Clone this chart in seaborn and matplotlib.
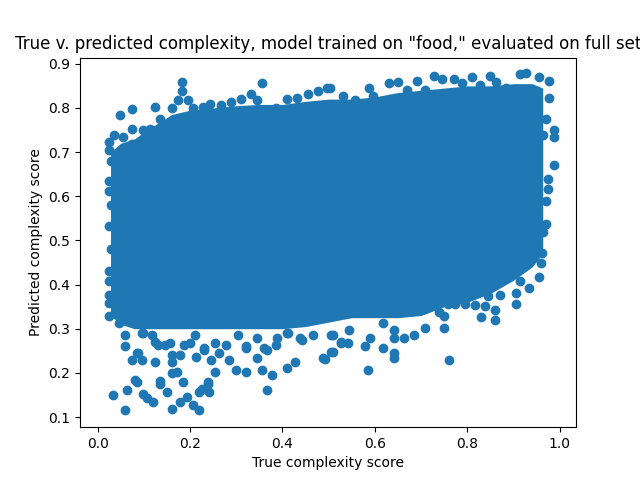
import matplotlib
matplotlib.use("Agg")
import matplotlib.pyplot as plt
import seaborn as sns
import pandas as pd

# solid core of the cloud (true score -> lowest / highest covered predicted score)
core_x = [0.028, 0.05, 0.08, 0.10, 0.13, 0.16, 0.20, 0.25, 0.30, 0.35, 0.40, 0.45,
          0.50, 0.55, 0.60, 0.65, 0.70, 0.75, 0.80, 0.85, 0.90, 0.94, 0.963]
core_low = [0.33, 0.31, 0.30, 0.30, 0.30, 0.30, 0.30, 0.30, 0.30, 0.30, 0.30, 0.305,
            0.315, 0.325, 0.325, 0.325, 0.33, 0.35, 0.36, 0.38, 0.41, 0.44, 0.47]
core_high = [0.70, 0.72, 0.73, 0.745, 0.765, 0.785, 0.795, 0.80, 0.805, 0.808, 0.808, 0.815,
             0.82, 0.82, 0.825, 0.835, 0.84, 0.845, 0.85, 0.85, 0.855, 0.855, 0.845]

# points along the upper rim
top_x = [0.024, 0.035, 0.024, 0.048, 0.074, 0.056, 0.074, 0.074, 0.099, 0.113, 0.124, 0.135,
         0.16, 0.174, 0.183, 0.183, 0.196, 0.206, 0.228, 0.243, 0.267, 0.288, 0.31, 0.333,
         0.356, 0.345, 0.385, 0.41, 0.431, 0.456, 0.477, 0.497, 0.503, 0.531, 0.556, 0.588,
         0.595, 0.631, 0.649, 0.67, 0.69, 0.709, 0.727, 0.745, 0.77, 0.788, 0.809, 0.827,
         0.849, 0.863, 0.884, 0.913, 0.927, 0.956, 0.977]
top_y = [0.723, 0.738, 0.704, 0.785, 0.797, 0.734, 0.753, 0.719, 0.749, 0.753, 0.803, 0.776,
         0.799, 0.817, 0.858, 0.838, 0.817, 0.799, 0.803, 0.808, 0.807, 0.814, 0.82, 0.831,
         0.856, 0.817, 0.799, 0.82, 0.822, 0.831, 0.838, 0.845, 0.845, 0.826, 0.818, 0.845,
         0.826, 0.856, 0.858, 0.841, 0.861, 0.841, 0.873, 0.866, 0.866, 0.856, 0.869, 0.852,
         0.873, 0.858, 0.845, 0.877, 0.879, 0.869, 0.861]

# points along the left and right sides
side_x = [0.024, 0.024, 0.024, 0.024, 0.024, 0.024, 0.024, 0.024, 0.03, 0.03, 0.03,
          0.976, 0.97, 0.988, 0.988, 0.963, 0.987, 0.974, 0.974, 0.97, 0.97, 0.963,
          0.961, 0.959, 0.956]
side_y = [0.635, 0.613, 0.533, 0.43, 0.408, 0.377, 0.358, 0.328, 0.68, 0.58, 0.48,
          0.822, 0.776, 0.75, 0.734, 0.738, 0.67, 0.64, 0.617, 0.59, 0.538, 0.52,
          0.472, 0.449, 0.417]

# points along the lower rim and below it
bottom_x = [0.046, 0.06, 0.06, 0.074, 0.096, 0.088, 0.124, 0.099, 0.124, 0.146, 0.16,
            0.16, 0.178, 0.199, 0.213, 0.231, 0.246, 0.253, 0.263, 0.285, 0.299, 0.321, 0.321,
            0.345, 0.36, 0.356, 0.377, 0.385, 0.41, 0.41, 0.428, 0.442, 0.488, 0.506, 0.366,
            0.51, 0.527, 0.545, 0.542, 0.578, 0.589, 0.617, 0.617, 0.642, 0.642, 0.663, 0.685,
            0.709, 0.749, 0.749, 0.738, 0.759, 0.774, 0.795, 0.816, 0.838, 0.829, 0.859, 0.859,
            0.845, 0.87, 0.906, 0.906, 0.913, 0.934, 0.76, 0.585, 0.642, 0.642, 0.492, 0.505,
            0.085, 0.096, 0.117, 0.131, 0.156, 0.16, 0.188, 0.21, 0.231, 0.253, 0.278, 0.303,
            0.321, 0.345, 0.367, 0.388, 0.413, 0.438, 0.467, 0.51, 0.527]
bottom_y = [0.313, 0.286, 0.26, 0.229, 0.229, 0.244, 0.225, 0.29, 0.271, 0.264, 0.225,
            0.199, 0.24, 0.267, 0.236, 0.252, 0.229, 0.201, 0.244, 0.229, 0.206, 0.203, 0.26,
            0.233, 0.256, 0.206, 0.195, 0.263, 0.21, 0.29, 0.225, 0.275, 0.233, 0.286, 0.162,
            0.286, 0.271, 0.298, 0.267, 0.26, 0.279, 0.256, 0.313, 0.298, 0.279, 0.279, 0.286,
            0.301, 0.301, 0.328, 0.339, 0.355, 0.355, 0.355, 0.353, 0.351, 0.326, 0.343, 0.32,
            0.373, 0.377, 0.381, 0.357, 0.408, 0.392, 0.23, 0.207, 0.244, 0.234, 0.232, 0.248,
            0.244, 0.29, 0.286, 0.264, 0.267, 0.24, 0.264, 0.286, 0.256, 0.267, 0.264, 0.286,
            0.256, 0.279, 0.252, 0.279, 0.29, 0.279, 0.286, 0.248, 0.267]

# low cluster near the bottom left
cluster_x = [0.034, 0.06, 0.064, 0.086, 0.098, 0.12, 0.135, 0.15, 0.16, 0.171, 0.184, 0.193,
             0.22, 0.22, 0.238, 0.242, 0.178, 0.206, 0.107, 0.225, 0.081, 0.135, 0.238]
cluster_y = [0.15, 0.116, 0.162, 0.18, 0.153, 0.134, 0.175, 0.157, 0.118, 0.203, 0.18, 0.146,
             0.116, 0.157, 0.175, 0.157, 0.134, 0.127, 0.142, 0.164, 0.184, 0.182, 0.18]

BLUE = "#1f77b4"

core_df = pd.DataFrame({"x": core_x, "low": core_low, "high": core_high})
points_df = pd.DataFrame({
    "x": top_x + side_x + bottom_x + cluster_x,
    "y": top_y + side_y + bottom_y + cluster_y,
})

fig, ax = plt.subplots(figsize=(6.4, 4.8), dpi=100)
ax.fill_between(core_df["x"], core_df["low"], core_df["high"], color=BLUE, linewidth=0)
sns.scatterplot(data=points_df, x="x", y="y", ax=ax, color=BLUE, s=36,
                edgecolor=BLUE, linewidth=1.0)
ax.set_xlim(-0.038, 1.035)
ax.set_ylim(0.077, 0.914)
ax.set_title('True v. predicted complexity, model trained on "food," evaluated on full set')
ax.set_xlabel("True complexity score")
ax.set_ylabel("Predicted complexity score")
fig.savefig("out.png")
